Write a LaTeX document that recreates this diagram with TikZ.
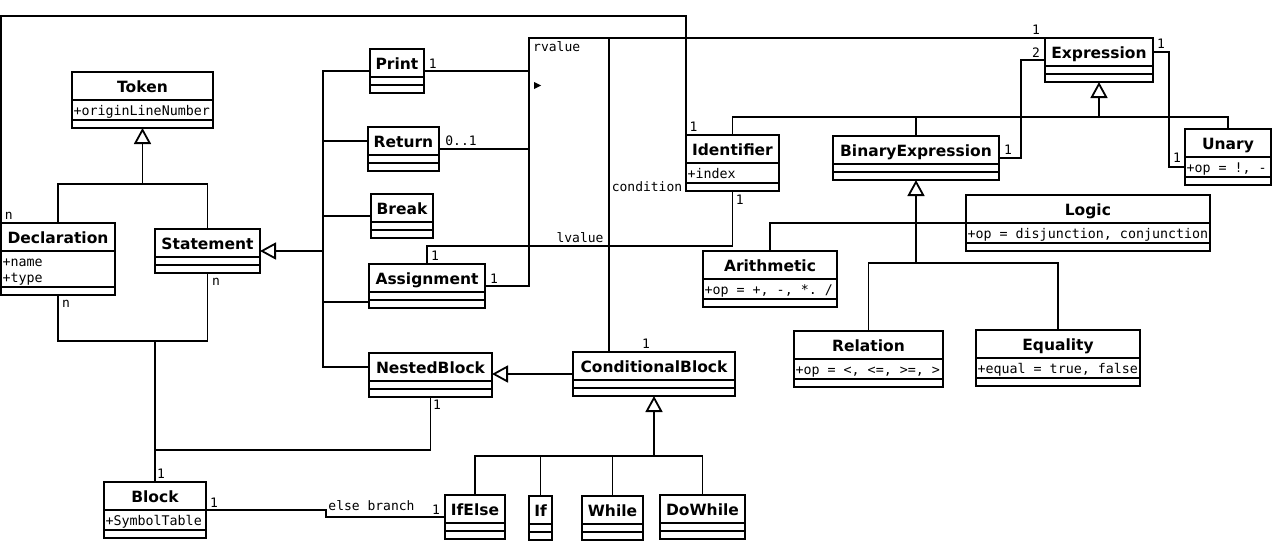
\documentclass[tikz,border=0pt]{standalone}
\usepackage{fontspec}
\setmainfont{DejaVu Sans}
\setmonofont{DejaVu Sans Mono}
\usetikzlibrary{positioning,arrows.meta,calc,shapes.multipart}
\newcommand{\ctitle}{\rmfamily\bfseries\fontsize{15.5}{18}\selectfont\rule[-7.1pt]{0pt}{26.2pt}}
\newcommand{\cattr}{\rule[-4.1pt]{0pt}{18.2pt}}
\tikzset{
	inherits/.style = {-{Triangle[open, length=16pt, width=17pt]}}
}

\begin{document}
\begin{tikzpicture}[
	x = 1pt, y = -1pt,
	line width = 1.8pt,
	every node/.style = {
		font = \ttfamily\fontsize{13.33}{16}\selectfont
	},
	class/.style = {
		draw,
		rectangle split,
		rectangle split parts = 3,
		rectangle split part align = {center, left, left},
		rectangle split empty part height = 6.2pt,
		rectangle split empty part depth = 0pt,
		inner xsep = 1.5pt,
		inner ysep = 0pt,
		outer sep = 0pt,
		anchor = north west,
		minimum width = #1
	},
	mult/.style = {
		inner sep = 0pt,
		font = \ttfamily\fontsize{13}{15}\selectfont
	}
	]
	\useasboundingbox (0,0) rectangle (1272,541);

	% classes
	\node[class=141pt] (token) at (72,72) {\ctitle Token\nodepart{two}\cattr +originLineNumber};
	\node[class=114pt] (declaration) at (1,223) {\ctitle Declaration\nodepart{two}{\def\arraystretch{0}\begin{tabular}{@{}l@{}}\rule[-1pt]{0pt}{15.1pt}+name\\\rule[-4.1pt]{0pt}{19.1pt}+type\end{tabular}}};
	\node[class=105pt] (statement) at (155,229) {\ctitle Statement};
	\node[class=54pt] (print) at (370,49) {\ctitle Print};
	\node[class=71pt] (return) at (368,127) {\ctitle Return};
	\node[class=62pt] (break) at (371,194) {\ctitle Break};
	\node[class=116pt] (assignment) at (369,264) {\ctitle Assignment};
	\node[class=123pt] (nestedblock) at (369,353) {\ctitle NestedBlock};
	\node[class=162pt] (conditionalblock) at (573,352) {\ctitle ConditionalBlock};
	\node[class=102pt] (block) at (104,482) {\ctitle Block\nodepart{two}\cattr +SymbolTable};
	\node[class=60pt] (ifelse) at (445,495) {\ctitle IfElse};
	\node[class=23pt] (if) at (529,496) {\ctitle If};
	\node[class=61pt] (while) at (582,496) {\ctitle While};
	\node[class=85pt] (dowhile) at (660,495) {\ctitle DoWhile};
	\node[class=93pt] (identifier) at (686,135) {\ctitle Identifier\nodepart{two}\cattr +index};
	\node[class=166pt] (binaryexpression) at (833,136) {\ctitle BinaryExpression};
	\node[class=108pt] (expression) at (1045,38) {\ctitle Expression};
	\node[class=86pt] (unary) at (1185,129) {\ctitle Unary\nodepart{two}\cattr +op = !, -};
	\node[class=241pt] (logic) at (966,195) {\ctitle Logic\nodepart{two}\cattr +op = disjunction, conjunction};
	\node[class=134pt] (arithmetic) at (703,251) {\ctitle Arithmetic\nodepart{two}\cattr +op = +, -, *. /};
	\node[class=149pt] (relation) at (794,331) {\ctitle Relation\nodepart{two}\cattr +op = <, <=, >=, >};
	\node[class=164pt] (equality) at (976,330) {\ctitle Equality\nodepart{two}\cattr +equal = true, false};

	% generalizations
	\coordinate (tokenjoin) at ($(token.south)+(0,56)$);
	\draw (declaration.north) |- (tokenjoin) -| (statement.north);
	\draw[inherits] (tokenjoin) -- (token.south);

	\coordinate (stmtjoin) at ($(statement.east)+(63,0)$);
	\draw[inherits] (stmtjoin) -- (statement.east);
	\draw (print.west) -| (stmtjoin);
	\draw ($(return.north west)!.5!(return.text split west)$) -| (stmtjoin);
	\draw (break.west) -| (stmtjoin);
	\draw ([yshift=-2pt]assignment.two split west) -| (stmtjoin);
	\draw ($(nestedblock.north west)!.5!(nestedblock.text split west)$) -| (stmtjoin);

	\coordinate (exprjoin) at ($(expression.south)+(0,35)$);
	\draw[inherits] (exprjoin) -- (expression.south);
	\draw (identifier.north) |- (exprjoin) -| (unary.north);
	\draw (binaryexpression.north) -- (binaryexpression.north |- exprjoin);

	\coordinate (binjoin) at ($(binaryexpression.south)+(0,83)$);
	\draw[inherits] (binjoin) -- (binaryexpression.south);
	\draw (relation.north) |- (binjoin) -| (equality.north);
	\draw (arithmetic.north) |- (logic.text split west);

	\draw[inherits] (conditionalblock.west) -- (conditionalblock.west -| nestedblock.east);

	\coordinate (condjoin) at ($(conditionalblock.south)+(0,60)$);
	\draw[inherits] (condjoin) -- (conditionalblock.south);
	\draw (ifelse.north) |- (condjoin) -| (dowhile.north);
	\draw (if.north) -- (if.north |- condjoin);
	\draw (while.north) -- (while.north |- condjoin);

	% associations
	\coordinate (blockjoin) at ($(block.north)+(0,-141)$);
	\draw (declaration.south) |- (blockjoin) -| (statement.south);
	\draw (blockjoin) -- (block.north);
	\draw (nestedblock.south) -- ++(0,53) -| (block.north);
	\draw (block.text split east) -- ++(120,0) |- (ifelse.west);

	\coordinate (rvaluejoin) at ($(expression.north west)+(-516,0)$);
	\draw (print.east) -| (rvaluejoin) -- (expression.north west);
	\draw (return.east) -| (rvaluejoin);
	\draw (assignment.east) -| (rvaluejoin);
	\draw ($(conditionalblock.north west)+(36,0)$) |- (rvaluejoin);
	\fill (534,82) -- (541,85.5) -- (534,89) -- cycle;

	\draw (declaration.north west) -- ++(0,-207) -| (identifier.north west);
	\draw (assignment.north) -- ++(0,-18) -| (identifier.south);
	\draw (binaryexpression.east) -- ++(22,0) |- (expression.west);
	\draw ($(expression.north east)!.5!(expression.text split east)$) -- ++(16,0)
		|- ($(unary.text split west)!.5!(unary.two split west)$);

	% multiplicities and roles
	\node[mult] (m-decl-id) at (8.7,215.5) {n};
	\node[mult] (m-id-decl) at (693.5,127) {1};
	\node[mult] (m-decl-blk) at (66,303.7) {n};
	\node[mult] (m-stmt-blk) at (216,282) {n};
	\node[mult] (m-blk) at (161,474) {1};
	\node[mult] (m-nest-blk) at (437,405) {1};
	\node[mult] (m-blk-else) at (214,503) {1};
	\node[mult] (elsebranch) at (371.5,506) {else branch};
	\node[mult] (m-ifelse) at (436,510) {1};
	\node[mult] (m-print) at (432.7,63.7) {1};
	\node[mult] (m-return) at (461,140.5) {0..1};
	\node[mult] (m-assign-r) at (494,278.7) {1};
	\node[mult] (rvalue) at (556.7,46.8) {rvalue};
	\node[mult] (m-expr-top) at (1036,30) {1};
	\node[mult] (m-assign-l) at (435,255.5) {1};
	\node[mult] (lvalue) at (580,238) {lvalue};
	\node[mult] (m-id-low) at (739.7,199.8) {1};
	\node[mult] (condition) at (647,187) {condition};
	\node[mult] (m-cond) at (646,344) {1};
	\node[mult] (m-expr-bin) at (1036,52.5) {2};
	\node[mult] (m-bin) at (1008,150) {1};
	\node[mult] (m-expr-un) at (1161,43.3) {1};
	\node[mult] (m-un) at (1177,158) {1};

\end{tikzpicture}
\end{document}
